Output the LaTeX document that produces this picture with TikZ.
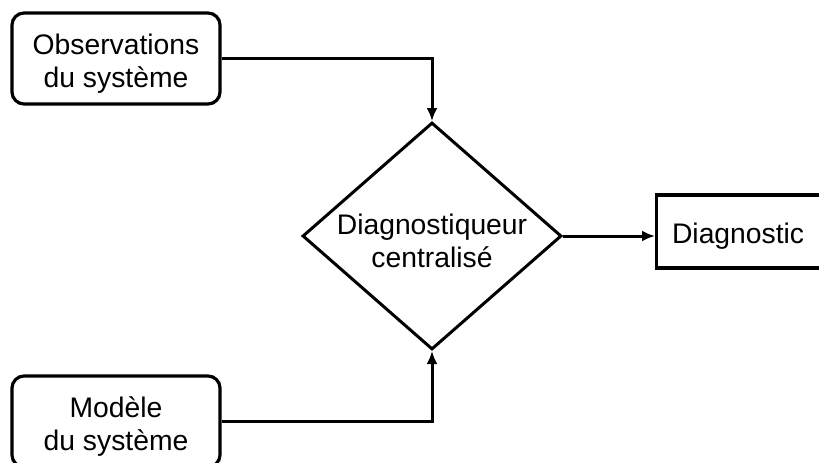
\documentclass[tikz,border=0pt]{standalone}
\usepackage{fontspec}
\setmainfont{Liberation Sans}
\usetikzlibrary{positioning,calc,shapes.geometric,arrows.meta}

\tikzset{
	inbox/.style={draw, line width=3.2pt, rounded corners=12pt, minimum width=208pt, minimum height=91pt, inner sep=0pt},
	outbox/.style={draw, line width=3.2pt, minimum width=165pt, minimum height=73pt, inner sep=0pt},
	decide/.style={draw, line width=3pt, diamond, shape aspect=1.14, minimum width=259pt, minimum height=227pt, inner sep=0pt},
	txt/.style={align=center, inner sep=0pt, yshift=-5pt},
	flow/.style={line width=3pt, -{Latex[length=13pt,width=11pt]}}
}

\begin{document}
\begin{tikzpicture}[x=1pt,y=-1pt, font=\fontsize{28.3}{33.5}\selectfont]
		\useasboundingbox (0,0) rectangle (819,463);

		% inputs on the left
		\node[inbox] (obs) at (116,58.5) {};
		\node[inbox] (mod) at (116,421.5) {};
		\node[txt] (obs-text) at (obs.center) {Observations\\du système};
		\node[txt] (mod-text) at (mod.center) {Modèle\\du système};

		% the diagnoser and its output
		\node[decide] (diag) at (432,236) {};
		\node[txt] (diag-text) at (diag.center) {Diagnostiqueur\\centralisé};
		\node[outbox, anchor=west] (res) at (655,231.5) {};
		\node[txt, xshift=-1pt] (res-text) at (res.center) {Diagnostic};

		% Connections
		\draw[flow] (obs.east) -| (diag.north);
		\draw[flow] (mod.east) -| (diag.south);
		\draw[flow] (diag.east) -- (diag.east -| res.west);
	\end{tikzpicture}
\end{document}
